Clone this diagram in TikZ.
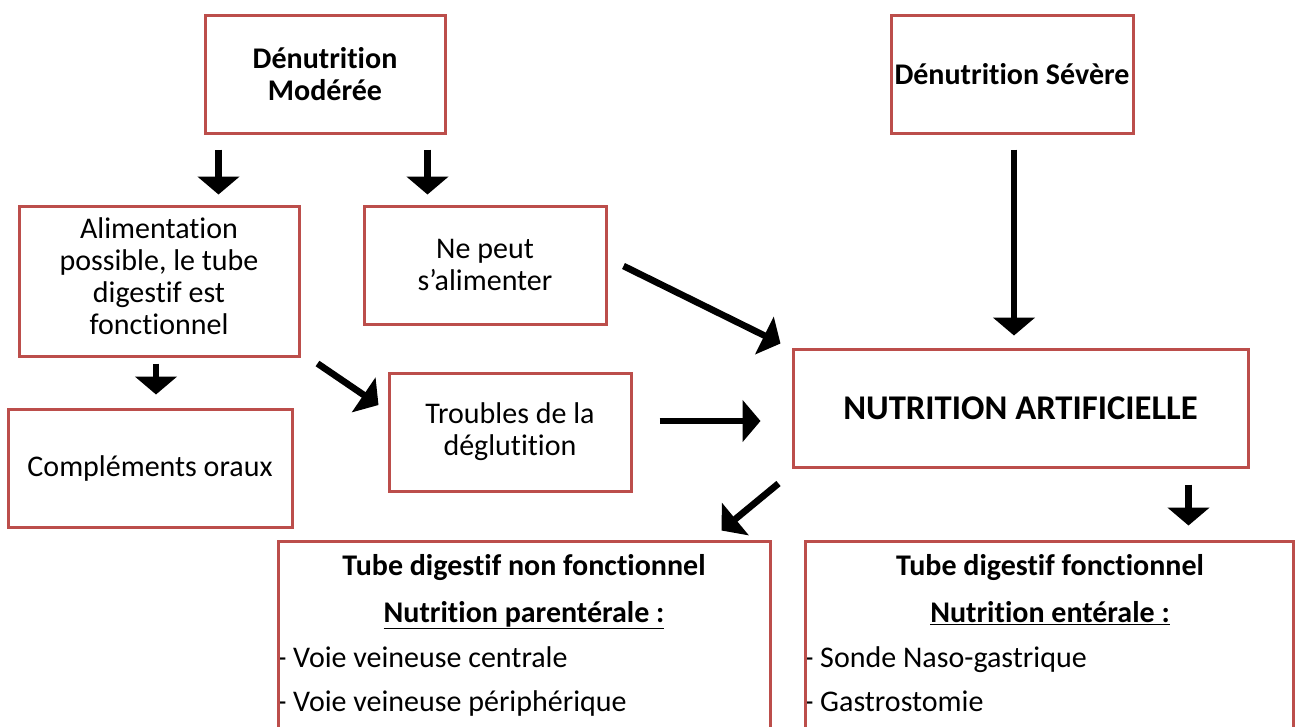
\documentclass[tikz,border=0pt]{standalone}
\usepackage{fontspec}
\setmainfont{Carlito}[Ligatures=NoCommon]
\usetikzlibrary{arrows.meta,calc}
\definecolor{boxred}{RGB}{188,78,75}
\newcommand{\basefs}{\fontsize{22.5}{24}\selectfont}
\begin{document}
\begin{tikzpicture}[x=0.75pt,y=-0.75pt,
  box/.style={draw=boxred,line width=2.25pt,inner sep=0pt,align=center,font=\basefs,minimum height=88.5pt},
  txt/.style={inner sep=0pt,font=\basefs},
  arr/.style={line width=5pt,-{Triangle[width=31pt,length=13.5pt]}}]
\useasboundingbox (0,0) rectangle (1297,726);
% bottom texts (drawn first so the box borders overlap the dashes)
\node[txt,anchor=base] (bl1) at (524,575) {\textbf{Tube digestif non fonctionnel}};
\node[txt,anchor=base] (bl2) at (524,622) {\textbf{\underline{Nutrition parentérale :}}};
\node[txt,anchor=base west] (bl3) at (277,667) {- Voie veineuse centrale};
\node[txt,anchor=base west] (bl4) at (277,711) {- Voie veineuse périphérique};
\node[txt,anchor=base] (br1) at (1050,575) {\textbf{Tube digestif fonctionnel}};
\node[txt,anchor=base] (br2) at (1050,622) {\textbf{\underline{Nutrition entérale :}}};
\node[txt,anchor=base west] (br3) at (804,667) {- Sonde Naso-gastrique};
\node[txt,anchor=base west] (br4) at (804,711) {- Gastrostomie};
% boxes
\node[box,minimum width=180pt] (m) at (325,74) {\textbf{Dénutrition}\\\textbf{Modérée}};
\node[box,minimum width=181.5pt] (s) at (1012,74) {\textbf{Dénutrition Sévère}};
\node[box,minimum width=210pt,minimum height=112.5pt] (a) at (159,281) {};
\node[txt,align=center] (at) at (159,276) {Alimentation\\possible, le tube\\digestif est\\fonctionnel};
\node[box,minimum width=181.5pt] (n) at (485,265) {Ne peut\\s’alimenter};
\node[box,minimum width=213pt] (c) at (150,468) {Compléments oraux};
\node[box,minimum width=181.5pt] (t) at (510,432) {Troubles de la\\déglutition};
\node[box,minimum width=341.25pt,font=\fontsize{26}{30}\selectfont] (na) at (1020.5,408) {\textbf{NUTRITION ARTIFICIELLE}};
\node[box,minimum width=369pt,minimum height=179.25pt] (bl) at (524,660.5) {};
\node[box,minimum width=366pt,minimum height=179.25pt] (br) at (1049,660.5) {};
% arrows
\draw[arr] ($(m.south west)+(15,15)$) -- ($(m.south west)+(15,60)$);
\draw[arr] ($(m.south east)+(-19,15)$) -- ($(m.south east)+(-19,60)$);
\draw[arr] ($(s.south)+(2,15)$) -- ($(na.north)+(-6.5,-12)$);
\draw[arr] ($(n.east)+(16,1)$) -- ($(na.north west)+(-11,-4)$);
\draw[arr] ($(a.south)+(-3,6)$) -- ($(c.north)+(6,-13)$);
\draw[arr] ($(a.south east)+(17,6)$) -- ($(t.west)+(-9,-27)$);
\draw[arr] ($(t.east)+(27,-11)$) -- ($(na.west)+(-31,13)$);
\draw[arr] ($(na.south west)+(-13,15)$) -- ($(bl.north east)+(-50,-9)$);
\draw[arr] ($(na.south east)+(-61,16)$) -- ($(br.north east)+(-106,-14)$);
\end{tikzpicture}
\end{document}
